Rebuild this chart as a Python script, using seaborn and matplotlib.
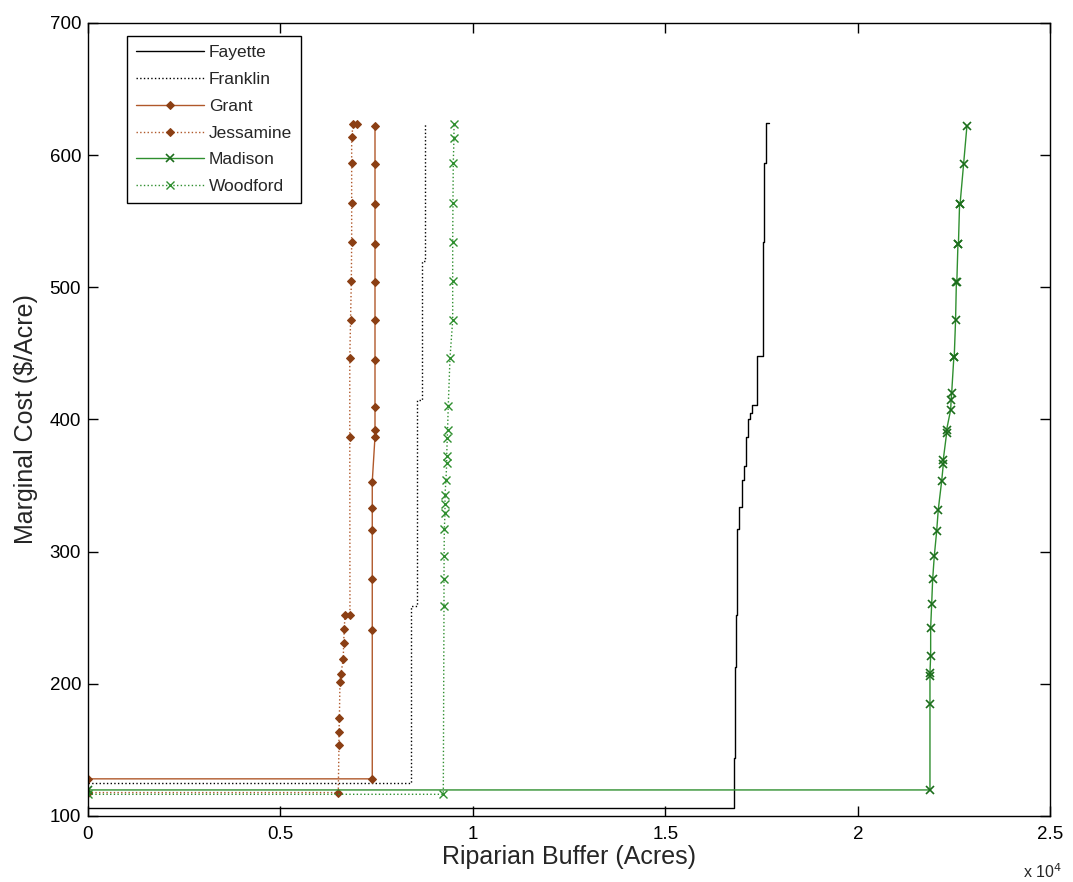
import matplotlib
matplotlib.use("Agg")
import matplotlib.pyplot as plt
import seaborn as sns

# marginal cost curves, acres (cumulative) vs $/acre
fayette_x = [0, 16787, 16805, 16831, 16865, 16917, 16979, 17039, 17083, 17151,
             17195, 17260, 17384, 17525, 17558, 17603, 17688]
fayette_y = [106, 144, 213, 252, 317, 334, 354, 365, 387, 400,
             405, 411, 448, 534, 594, 624, 624]

franklin_x = [0, 8400, 8540, 8670, 8760, 8760]
franklin_y = [124.6, 259, 415, 520, 624, 624]

grant_x = [0, 7384, 7384, 7384, 7384, 7384, 7384, 7455, 7455, 7455,
           7455, 7455, 7455, 7455, 7455, 7455, 7455]
grant_y = [128, 128, 241, 279, 316, 333, 353, 387, 392, 409,
           445, 475, 504, 533, 563, 593, 622]

jessamine_x = [0, 6501, 6519, 6519, 6530, 6545, 6570, 6631, 6640, 6657,
               6675, 6805, 6800, 6800, 6820, 6840, 6849, 6849, 6849, 6849, 6891, 6979]
jessamine_y = [117.6, 117.6, 153.6, 163.8, 173.8, 201.6, 207.6, 218.4, 230.5, 241.6,
               251.7, 251.7, 386.5, 446.5, 475, 504.5, 534, 563.7, 594, 614, 623.7, 623.7]

madison_x = [0, 21870, 21870, 21870, 21870, 21888, 21888, 21914, 21940, 21982,
             22044, 22086, 22174, 22216, 22216, 22304, 22304, 22408, 22420, 22434,
             22490, 22500, 22535, 22556, 22568, 22597, 22610, 22639, 22652, 22743, 22830]
madison_y = [119.6, 119.6, 184.4, 205.8, 208.3, 221, 242.4, 260, 279, 296.5,
             315.4, 331.8, 353.3, 365.9, 369.6, 389.8, 392.3, 407.4, 415, 420,
             447, 447, 475, 504, 504, 533, 533, 563, 563, 593, 622]

woodford_x = [0, 9229, 9247, 9247, 9250, 9255, 9273, 9273, 9273, 9299, 9317, 9317,
              9332, 9340, 9358, 9403, 9473, 9473, 9473, 9480, 9488, 9506, 9506]
woodford_y = [116.3, 116.3, 259, 279, 296.5, 316.7, 329, 335.6, 343, 354.5, 367, 372,
              386, 392.3, 410, 446.5, 475, 504.5, 534, 564, 594, 613, 623.7]

xtick_vals = [0, 5000, 10000, 15000, 20000, 25000]
xtick_labels = ["0", "0.5", "1", "1.5", "2", "2.5"]
ytick_vals = [100, 200, 300, 400, 500, 600, 700]

brown = "#b0582a"
brown_dark = "#8b3f14"
green = "#2f8f2f"
green_dark = "#1c6e1c"

sns.set_style("white")
plt.rcParams["font.family"] = ["Liberation Sans", "DejaVu Sans"]

fig, ax = plt.subplots(figsize=(10.73, 8.82), dpi=100)
fig.subplots_adjust(left=0.082, right=0.979, bottom=0.075, top=0.974)

common = dict(ax=ax, sort=False, estimator=None, lw=1.0)

sns.lineplot(x=fayette_x, y=fayette_y, color="black", drawstyle="steps-post",
             label="Fayette", **common)
sns.lineplot(x=franklin_x, y=franklin_y, color="black", linestyle=":",
             drawstyle="steps-post", label="Franklin", **common)
sns.lineplot(x=grant_x, y=grant_y, color=brown, marker="D", markersize=4.5,
             markerfacecolor=brown_dark, markeredgecolor=brown_dark,
             label="Grant", **common)
sns.lineplot(x=jessamine_x, y=jessamine_y, color=brown, linestyle=":", marker="D",
             markersize=4.5, markerfacecolor=brown_dark, markeredgecolor=brown_dark,
             label="Jessamine", **common)
sns.lineplot(x=madison_x, y=madison_y, color=green, marker="x", markersize=6,
             markeredgewidth=1.2, markeredgecolor=green_dark,
             label="Madison", **common)
sns.lineplot(x=woodford_x, y=woodford_y, color=green, linestyle=":", marker="x",
             markersize=6, markeredgewidth=1.0, markeredgecolor=green,
             label="Woodford", **common)

ax.set_xlim(0, 25000)
ax.set_ylim(100, 700)
ax.set_xticks(xtick_vals)
ax.set_xticklabels(xtick_labels)
ax.set_yticks(ytick_vals)
ax.tick_params(direction="in", length=7, width=1, labelsize=13.5, colors="black",
               top=True, right=True, bottom=True, left=True)
ax.tick_params(axis="y", pad=5)
ax.tick_params(axis="x", pad=7)
for sp in ax.spines.values():
    sp.set_color("black")
    sp.set_linewidth(1.0)

ax.set_xlabel("Riparian Buffer (Acres)", fontsize=18, labelpad=2)
ax.set_ylabel(r"Marginal Cost (\$/Acre)", fontsize=18, labelpad=8)
fig.text(0.99, 0.012, r"x 10$^4$", ha="right", va="center", fontsize=11.5)

leg = ax.legend(loc="upper left", bbox_to_anchor=(0.041, 0.983), borderaxespad=0,
                fancybox=False, edgecolor="black", framealpha=1, fontsize=12.5,
                handlelength=3.9, handletextpad=0.3, labelspacing=0.67,
                borderpad=0.5)
leg.get_frame().set_linewidth(1.0)

fig.savefig("out.png", dpi=100)
